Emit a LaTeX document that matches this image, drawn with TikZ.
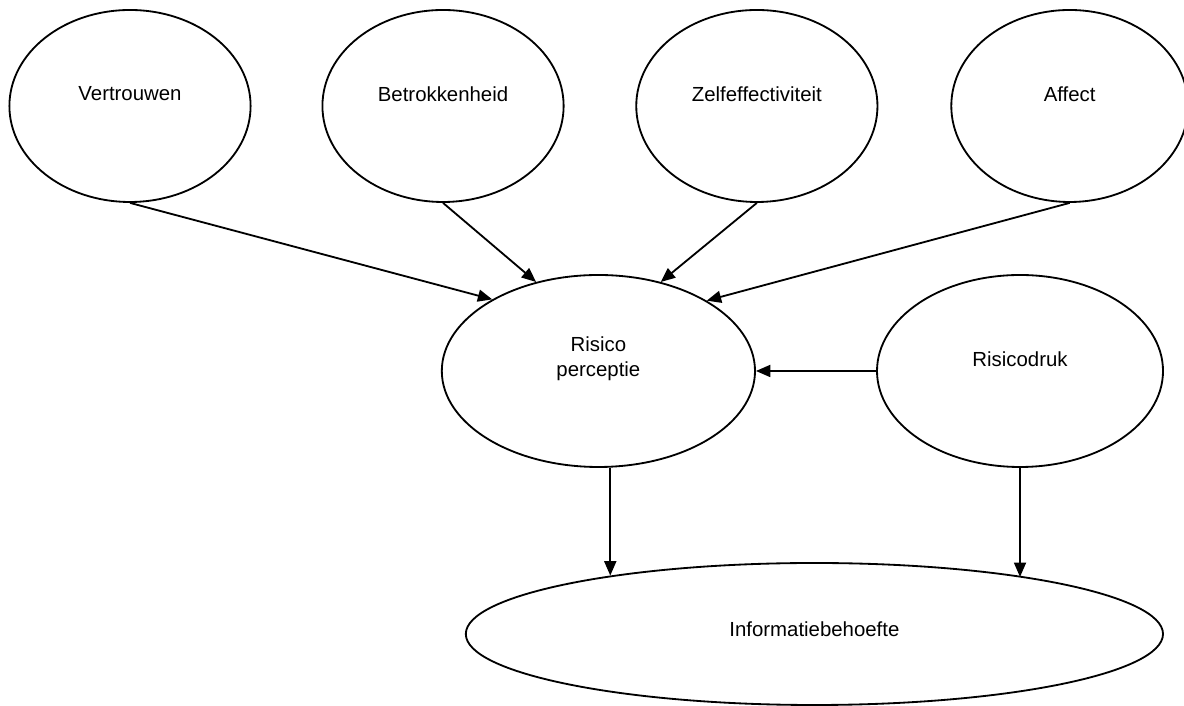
\documentclass[tikz,border=0pt]{standalone}
\usepackage{fontspec}
\setmainfont{Liberation Sans}
\usetikzlibrary{shapes.geometric,arrows.meta,positioning}

\tikzset{
  factor/.style={draw, ellipse, line width=1.3pt, minimum width=6.03cm, minimum height=4.8cm, inner sep=0pt},
  txt/.style={font=\fontsize{14.5}{18}\selectfont, align=center},
  lab/.style={label={[txt,yshift=0.3cm]center:#1}},
  arr/.style={-{Triangle[length=0.36cm,width=0.3cm]}, line width=1.3pt}
}

\begin{document}
\begin{tikzpicture}
              \useasboundingbox (0,0) rectangle (29.6,17.65);

              % Draw the four factors on top
              \node[factor, lab=Vertrouwen] (VT) at (3.25,15) {};
              \node[factor, lab=Betrokkenheid, right=1.75cm of VT] (BT) {};
              \node[factor, lab=Zelfeffectiviteit, right=1.77cm of BT] (ZE) {};
              \node[factor, lab=Affect, minimum width=5.92cm, right=1.8cm of ZE] (AF) {};

              % Draw the middle row
              \node[factor, lab={Risico\\perceptie}, minimum width=7.83cm] (RP) at (14.96,8.375) {};
              \node[factor, lab=Risicodruk, minimum width=7.15cm] (RD) at (25.5,8.375) {};

              % Draw the bottom ellipse
              \node[factor, minimum width=17.43cm, minimum height=3.55cm, label={[txt,yshift=0.12cm]center:Informatiebehoefte}] (IB) at (20.36,1.8) {};

              % Draw arrows to Risico perceptie
              \draw[arr] (VT.south) -- (RP.146);
              \draw[arr] (BT.south) -- (RP.125);
              \draw[arr] (ZE.south) -- (RP.55);
              \draw[arr] (AF.south) -- (RP.33);
              \draw[arr] (RD.west) -- (RP.east);

              % Draw arrows to Informatiebehoefte
              \draw[arr] (RP.277) -- (RP.277 |- IB.164.2);
              \draw[arr] (RD.south) -- (RD.south |- IB.15.6);
          \end{tikzpicture}
\end{document}
